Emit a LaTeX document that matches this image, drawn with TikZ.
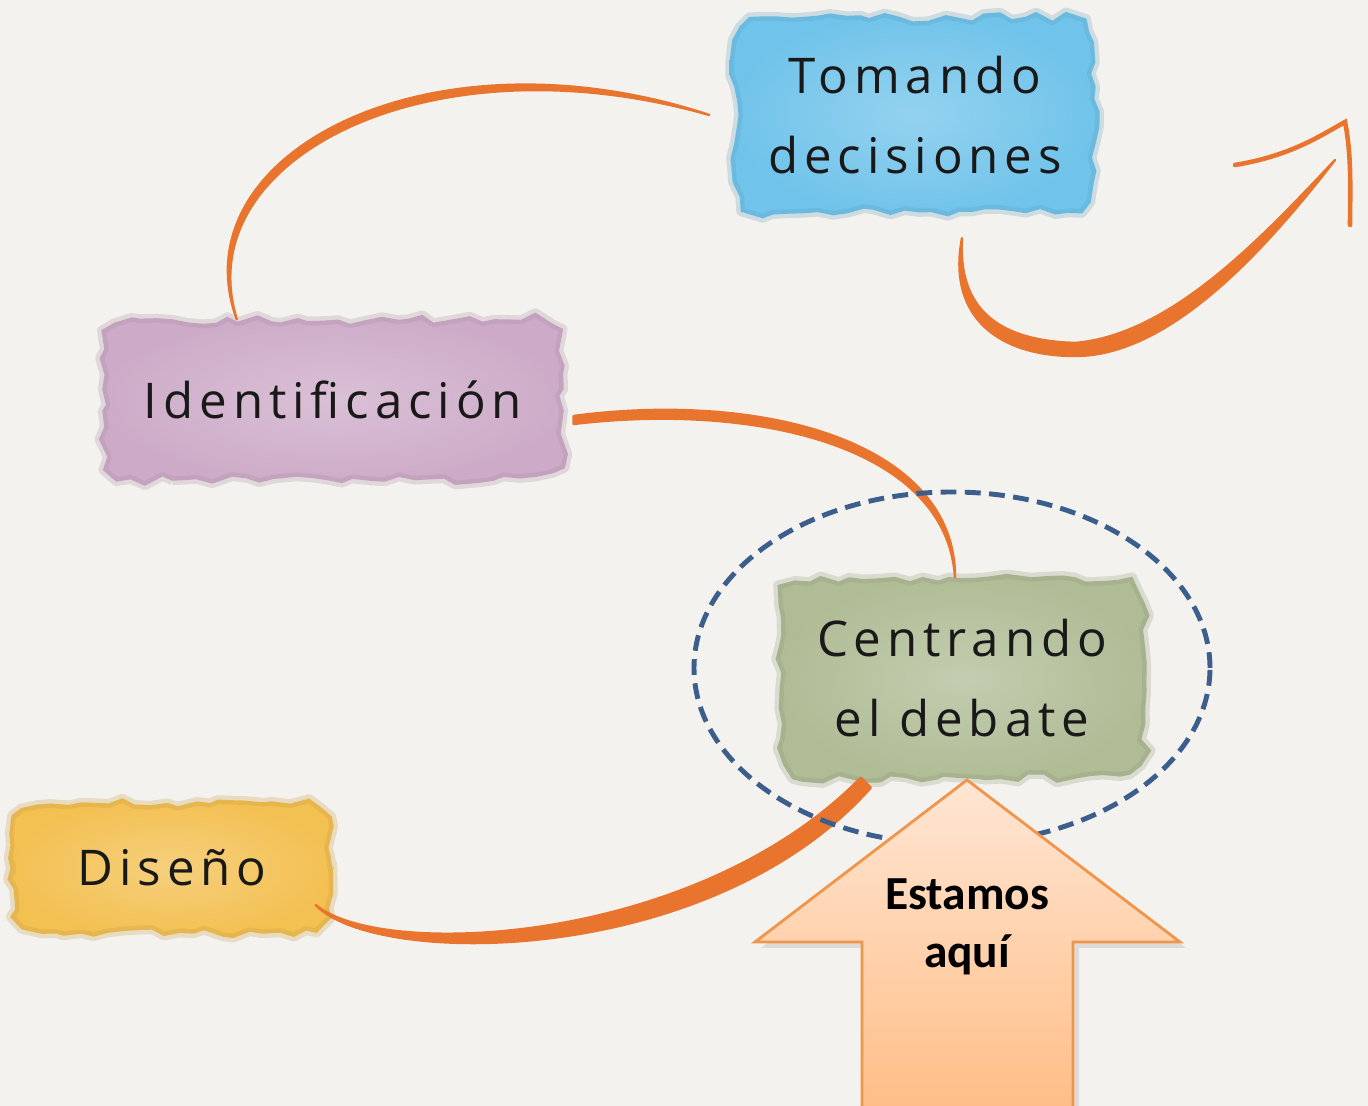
\documentclass[tikz,border=0pt]{standalone}
\usepackage{fontspec}
\newfontfamily\handfont[LetterSpace=12]{Open Sans}
\newfontfamily\calfont{Carlito}
\usetikzlibrary{decorations.pathmorphing,shadows,backgrounds}

\definecolor{paper}{HTML}{F4F2EE}
\definecolor{trazo}{HTML}{E8742D}
\definecolor{azul}{HTML}{70C3EA}
\definecolor{malva}{HTML}{CDABC8}
\definecolor{salvia}{HTML}{AFBC95}
\definecolor{mostaza}{HTML}{F3C052}
\definecolor{azulanillo}{HTML}{3B5E8C}
\definecolor{flechaborde}{HTML}{F0954A}
\definecolor{flechaarriba}{HTML}{FFE6D4}
\definecolor{flechaabajo}{HTML}{FFBD85}

% watercolour patch behind a node: {node}{colour}
\newcommand{\acuarela}[2]{%
  \path[mancha=#2] ([xshift=7mm]#1.south west) -- ([xshift=-7mm]#1.south east)
    .. controls (#1.south east) .. ([yshift=7mm]#1.south east) -- ([yshift=-7mm]#1.north east)
    .. controls (#1.north east) .. ([xshift=-7mm]#1.north east) -- ([xshift=7mm]#1.north west)
    .. controls (#1.north west) .. ([yshift=-7mm]#1.north west) -- ([yshift=7mm]#1.south west)
    .. controls (#1.south west) .. ([xshift=7mm]#1.south west) -- cycle;}

\begin{document}
\begin{tikzpicture}
    % Define styles
    \tikzset{
        paso/.style={rectangle, align=center, text=black!90,
            font=\handfont\fontsize{14}{23}\selectfont},
        mancha/.style={inner color=#1!75!white, outer color=#1,
            draw=#1!80!black, draw opacity=0.25, line width=2.5pt, line join=round,
            decorate, decoration={random steps, segment length=4pt, amplitude=1.3pt}},
        rama/.style={fill=trazo, draw=trazo, line width=0.7pt, line join=round},
        gancho/.style={draw=trazo, line width=1.3pt, line cap=round},
        foco/.style={draw=azulanillo, line width=1.4pt, dash pattern=on 4.5pt off 2.4pt},
        flecha/.style={draw=flechaborde, line width=0.8pt, line join=miter,
            top color=flechaarriba, bottom color=flechaabajo,
            drop shadow={opacity=0.2, shadow xshift=0.6mm, shadow yshift=-0.6mm}},
        etiqueta/.style={font=\calfont\bfseries\fontsize{13.5}{16.3}\selectfont, align=center}
    }
    \pgfmathsetseed{7}
    \useasboundingbox (0,0) rectangle (13.68,11.06);

    % Steps of the process
    \node[paso, minimum width=3.6cm, minimum height=1.95cm] (tomando) at (9.15,9.91) {Tomando\\decisiones};
    \node[paso, minimum width=4.6cm, minimum height=1.6cm] (ident) at (3.33,7.06) {Identificación};
    \node[paso, minimum width=3.65cm, minimum height=2.0cm] (centro) at (9.62,4.28) {Centrando\\el debate};
    \node[paso, minimum width=3.2cm, minimum height=1.3cm] (diseno) at (1.72,2.38) {Diseño};

    % Paper and watercolour patches
    \begin{scope}[on background layer]
        \fill[paper] (0,0) rectangle (13.68,11.06);
        \acuarela{tomando}{azul}
        \acuarela{ident}{malva}
        \acuarela{centro}{salvia}
        \acuarela{diseno}{mostaza}
    \end{scope}

    % Turning points of the way out
    \coordinate (giro) at (10.75,7.63);
    \coordinate (punta) at (13.35,9.46);

    % Orange brush strokes
    \filldraw[rama] (ident.140) .. controls +(-0.5,1.6) and +(-2.8,0.8) .. ([xshift=-2.5mm]tomando.west)
        .. controls +(-2.8,0.92) and +(-0.6,1.65) .. (ident.140) -- cycle;
    \filldraw[rama] ([xshift=4.7mm,yshift=-2.5mm]tomando.south) .. controls +(-0.05,-0.8) and +(-0.65,0.02) .. (giro)
        .. controls +(0.95,0.08) and +(-0.75,-0.8) .. (punta)
        .. controls +(-0.7,-0.9) and +(0.95,0.0) .. ([yshift=-1.3mm]giro)
        .. controls +(-0.75,0.0) and +(-0.15,-0.8) .. ([xshift=4.7mm,yshift=-2.5mm]tomando.south) -- cycle;
    \draw[gancho] ([shift={(-1.0,-0.05)}]punta) .. controls +(0.55,0.09) and +(-0.25,-0.14) .. ([shift={(0.1,0.38)}]punta)
        .. controls +(0.07,-0.34) and +(0,0.29) .. ([shift={(0.15,-0.65)}]punta);
    \filldraw[rama] ([xshift=1mm,yshift=-1.6mm]ident.east) .. controls +(1.9,0.25) and +(0,1.35) .. ([xshift=-0.7mm]centro.north)
        .. controls +(-0.08,1.3) and +(1.85,0.22) .. ([xshift=1mm,yshift=-2.4mm]ident.east) -- cycle;
    \filldraw[rama] ([xshift=-1.7mm,yshift=-3.7mm]diseno.east) .. controls +(0.65,-0.55) and +(-1.65,-1.68) .. ([xshift=8.2mm,yshift=0.1mm]centro.south west)
        -- ([xshift=9.2mm,yshift=-0.9mm]centro.south west)
        .. controls +(-1.6,-1.8) and +(0.6,-0.63) .. ([xshift=-1.7mm,yshift=-3.7mm]diseno.east) -- cycle;

    % Dashed ring round the current step
    \draw[foco] ([shift={(-0.1,0.1)}]centro.center) ellipse (2.58cm and 1.76cm);

    % Block arrow "we are here"
    \draw[flecha] (8.62,-0.1) -- (8.62,1.64) -- (7.55,1.64) -- (9.67,3.26) -- (11.80,1.64) -- (10.73,1.64) -- (10.73,-0.1);
    \node[etiqueta] (aqui) at (9.67,1.79) {Estamos\\aquí};

\end{tikzpicture}
\end{document}
